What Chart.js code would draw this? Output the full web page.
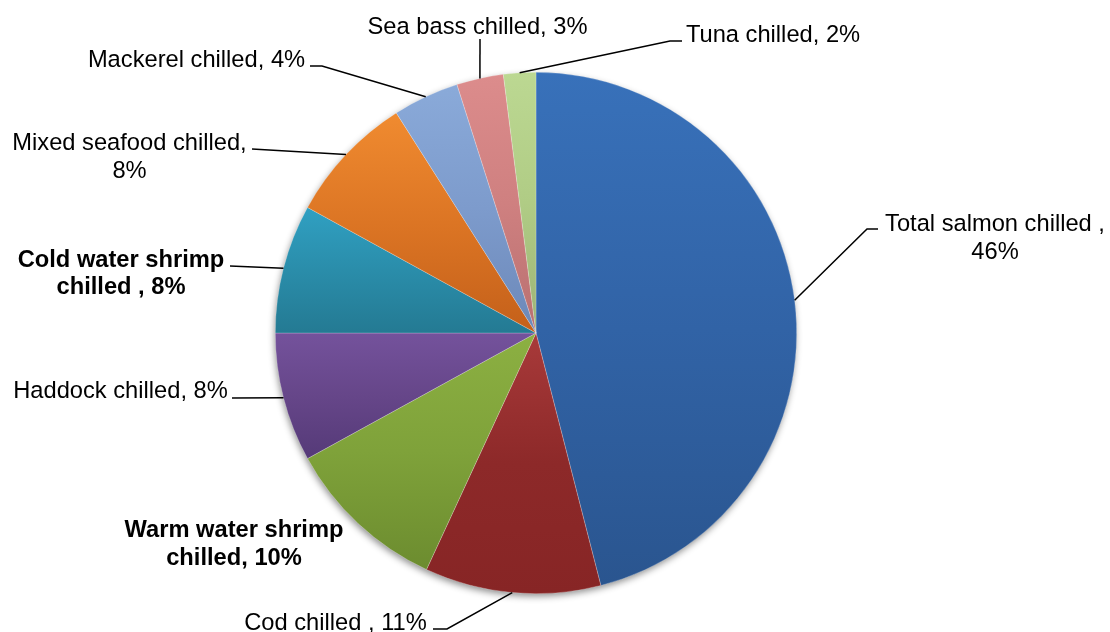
<!DOCTYPE html>
<html>
<head>
<meta charset="utf-8">
<script src="https://cdn.jsdelivr.net/npm/chart.js@4"></script>
<style>
  html, body { margin: 0; padding: 0; background: #ffffff; }
  #wrap { position: relative; width: 1110px; height: 632px; }
</style>
</head>
<body>
<div id="wrap"><canvas id="c"></canvas></div>
<script>
// ---- data ----
const categories = ['Total salmon chilled ', 'Cod chilled ', 'Warm water shrimp chilled', 'Haddock chilled',
  'Cold water shrimp chilled ', 'Mixed seafood chilled', 'Mackerel chilled', 'Sea bass chilled', 'Tuna chilled'];
const shares = [46.0, 10.9, 10.1, 8.0, 8.0, 8.0, 4.1, 2.9, 2.0];
const boldLabels = [false, false, true, false, true, false, false, false, false];

// ---- styles ----
const topColors    = ['#3871ba', '#a83a3a', '#8cb042', '#74529c', '#30a0c2', '#f08b30', '#8aaad9', '#dc8c8c', '#bcd892'];
const midColors    = ['#3163a6', '#8d2929', '#7fa23a', '#664689', '#2a8daa', '#dc7524', '#7d9bcc', '#cf8080', '#b0cc85'];
const bottomColors = ['#2a558f', '#872525', '#6c8c2f', '#553a78', '#247a93', '#c4601a', '#6c88b8', '#b87070', '#9bb276'];

// label layout: centre x, baseline of first line, wrap width, leader elbow points (label side last)
const labelLayout = [
  { cx: 995,   by: 231,   maxW: 232, leader: [[867, 229], [878, 229]] },
  { cx: 335.5, by: 630,   maxW: 999, leader: [[447, 629], [433, 629]] },
  { cx: 234,   by: 537,   maxW: 232, leader: null },
  { cx: 120.5, by: 398,   maxW: 999, leader: [[232, 398]] },
  { cx: 121,   by: 266.5, maxW: 218, leader: [[230, 266]] },
  { cx: 129.5, by: 150,   maxW: 245, leader: [[252, 149]] },
  { cx: 196.5, by: 66.5,  maxW: 999, leader: [[322, 66], [310, 66]] },
  { cx: 477.5, by: 34,    maxW: 999, leader: [[480, 39]] },
  { cx: 773,   by: 42,    maxW: 999, leader: [[670, 41], [682, 41]] }
];
const FONT_SIZE = 23.7;
const LINE_H = 27.5;
const FONT_FAM = '"Liberation Sans", Arial, Helvetica, sans-serif';

const total = shares.reduce((a, b) => a + b, 0);
const labelTexts = categories.map((c, i) => c + ', ' + Math.round(shares[i] / total * 100) + '%');

function wrap(ctx, text, maxW) {
  const words = text.split(' ');
  const lines = [];
  let cur = '';
  for (const w of words) {
    const test = cur === '' ? w : cur + ' ' + w;
    if (cur !== '' && ctx.measureText(test).width > maxW) {
      lines.push(cur);
      cur = w;
    } else {
      cur = test;
    }
  }
  if (cur !== '') lines.push(cur);
  return lines;
}

const pieDecor = {
  id: 'pieDecor',
  beforeDatasetsDraw(chart) {
    const ctx = chart.ctx;
    const meta = chart.getDatasetMeta(0);
    if (!meta.data.length) return;
    const a0 = meta.data[0];
    // soft shadow under the pie
    ctx.save();
    ctx.shadowColor = 'rgba(0,0,0,0.45)';
    ctx.shadowBlur = 7;
    ctx.shadowOffsetX = -1;
    ctx.shadowOffsetY = 3;
    ctx.beginPath();
    ctx.arc(a0.x, a0.y, a0.outerRadius - 0.5, 0, Math.PI * 2);
    ctx.fillStyle = '#ffffff';
    ctx.fill();
    ctx.restore();
    // vertical gradient per slice over its own bounding box
    meta.data.forEach((arc, i) => {
      const { x, y, startAngle, endAngle, outerRadius } = arc;
      let ymin = y, ymax = y;
      const n = 64;
      for (let k = 0; k <= n; k++) {
        const a = startAngle + (endAngle - startAngle) * k / n;
        const py = y + outerRadius * Math.sin(a);
        ymin = Math.min(ymin, py);
        ymax = Math.max(ymax, py);
      }
      const g = ctx.createLinearGradient(0, ymin, 0, ymax);
      g.addColorStop(0, topColors[i]);
      g.addColorStop(0.5, midColors[i]);
      g.addColorStop(1, bottomColors[i]);
      arc.options.backgroundColor = g;
    });
  },
  afterDatasetsDraw(chart) {
    const ctx = chart.ctx;
    const meta = chart.getDatasetMeta(0);
    ctx.save();
    meta.data.forEach((arc, i) => {
      const lay = labelLayout[i];
      const mid = (arc.startAngle + arc.endAngle) / 2;
      const sx = arc.x + arc.outerRadius * Math.cos(mid);
      const sy = arc.y + arc.outerRadius * Math.sin(mid);
      if (lay.leader) {
        ctx.beginPath();
        ctx.moveTo(sx, sy);
        lay.leader.forEach(p => ctx.lineTo(p[0], p[1]));
        ctx.strokeStyle = '#000000';
        ctx.lineWidth = 1.5;
        ctx.stroke();
      }
      ctx.font = (boldLabels[i] ? 'bold ' : '') + FONT_SIZE + 'px ' + FONT_FAM;
      ctx.fillStyle = '#000000';
      ctx.textAlign = 'center';
      ctx.textBaseline = 'alphabetic';
      const lines = wrap(ctx, labelTexts[i], lay.maxW);
      lines.forEach((ln, k) => ctx.fillText(ln, lay.cx, lay.by + k * LINE_H));
    });
    ctx.restore();
  }
};

new Chart(document.getElementById('c'), {
  type: 'pie',
  data: {
    labels: categories,
    datasets: [{
      data: shares,
      backgroundColor: midColors,
      borderColor: 'rgba(255,255,255,0.35)',
      borderWidth: 0.6
    }]
  },
  options: {
    responsive: true,
    maintainAspectRatio: false,
    animation: false,
    events: [],
    layout: { padding: { left: 275, right: 313, top: 72, bottom: 38 } },
    plugins: {
      legend: { display: false },
      tooltip: { enabled: false },
      title: { display: false }
    }
  },
  plugins: [pieDecor]
});
</script>
</body>
</html>
